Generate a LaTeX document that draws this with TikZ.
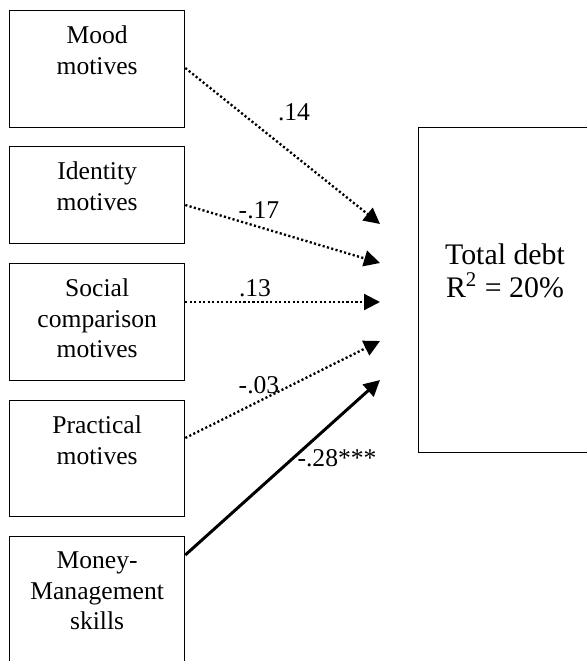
\documentclass[tikz,border=0pt]{standalone}
\usepackage{fontspec}
\setmainfont{Liberation Serif}
\usetikzlibrary{arrows.meta}

\newcommand{\pxu}{0.469pt}

\tikzset{
  box/.style={draw, line width=0.6pt, anchor=north west, inner sep=0pt, minimum width=175*\pxu},
  boxtext/.style={anchor=north, align=center, inner sep=0pt, font=\fontsize{12}{14.5}\selectfont},
  dotarrow/.style={line width=1.1pt, dash pattern=on 1pt off 1.1pt, -{Triangle[length=7.5pt,width=7.5pt]}},
  solidarrow/.style={line width=1.4pt, -{Triangle[length=7.5pt,width=7.5pt]}},
  coef/.style={inner sep=0pt, font=\fontsize{12}{14.5}\selectfont}
}

\begin{document}
\begin{tikzpicture}[x=0.469pt, y=-0.469pt]
\useasboundingbox (0,0) rectangle (587,661);
\clip (0,0) rectangle (587,661);
%% left boxes
\node[box, minimum height=117*\pxu] (mood) at (9,10) {};
\node[box, minimum height=97*\pxu] (ident) at (9,146) {};
\node[box, minimum height=117*\pxu] (social) at (9,263) {};
\node[box, minimum height=116*\pxu] (pract) at (9,400) {};
\node[box, minimum height=140*\pxu] (money) at (9,536) {};
\node[boxtext] (moodtext) at ([yshift=-7pt]mood.north) {Mood\\motives};
\node[boxtext] (identtext) at ([yshift=-7pt]ident.north) {Identity\\motives};
\node[boxtext] (socialtext) at ([yshift=-7pt]social.north) {Social\\comparison\\motives};
\node[boxtext] (practtext) at ([yshift=-7pt]pract.north) {Practical\\motives};
\node[boxtext] (moneytext) at ([yshift=-7pt]money.north) {Money-\\Management\\skills};
%% outcome
\node[box, minimum width=178*\pxu, minimum height=325*\pxu] (debt) at (418,127) {};
\node[align=center, inner sep=0pt, font=\fontsize{14}{15.5}\selectfont] (debttext) at (505,271) {Total debt\\R\textsuperscript{2} = 20\%};
%% arrow ends
\coordinate (t1) at (380,224);
\coordinate (t2) at (380,263);
\coordinate (t3) at (380,302);
\coordinate (t4) at (380,341);
\coordinate (t5) at (380,380);
\draw[dotarrow] ([yshift=-58*\pxu]mood.north east) -- (t1);
\draw[dotarrow] ([yshift=-59*\pxu]ident.north east) -- (t2);
\draw[dotarrow] ([yshift=-39*\pxu]social.north east) -- (t3);
\draw[dotarrow] ([yshift=-38*\pxu]pract.north east) -- (t4);
\draw[solidarrow] ([yshift=-19*\pxu]money.north east) -- (t5);
%% coefficients
\node[coef] (c1) at (294,112) {.14};
\node[coef] (c2) at (259,210) {-.17};
\node[coef] (c3) at (255,288) {.13};
\node[coef] (c4) at (259,385) {-.03};
\node[coef] (c5) at (337,458) {-.28***};
\end{tikzpicture}
\end{document}
